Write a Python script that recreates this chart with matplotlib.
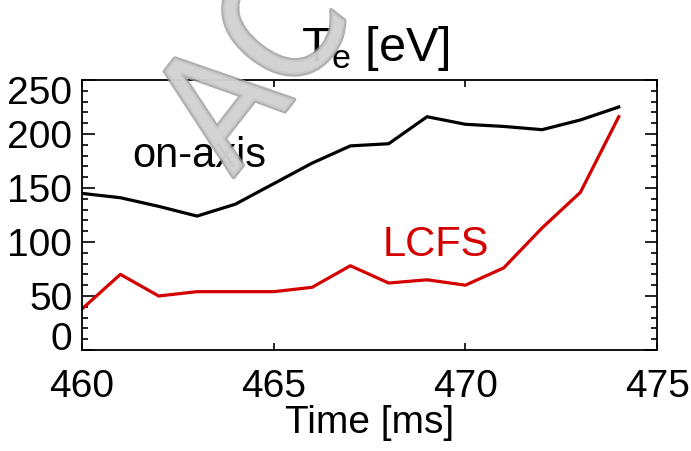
import numpy as np
import matplotlib
matplotlib.use("Agg")
import matplotlib.pyplot as plt
import matplotlib.patheffects as pe
import matplotlib.transforms as mtransforms
from matplotlib.ticker import MultipleLocator, FixedLocator

plt.rcParams['font.family'] = ['Liberation Sans', 'DejaVu Sans']
plt.rcParams['mathtext.fontset'] = 'custom'
plt.rcParams['mathtext.rm'] = 'Liberation Sans'
plt.rcParams['mathtext.it'] = 'Liberation Sans'

# electron temperature traces
time_ms = [460, 461, 462, 463, 464, 465, 466, 467, 468, 469, 470, 471, 472, 473, 474]
te_axis = [145, 141, 133, 124, 135, 154, 173, 189, 191, 216, 209, 207, 204, 213, 225]
te_lcfs = [38, 70, 50, 54, 54, 54, 58, 78, 62, 65, 60, 76, 113, 146, 216]
y_ticks = [0, 50, 100, 150, 200, 250]
x_ticks = [460, 465, 470, 475]

fig = plt.figure(figsize=(6.91, 4.51), dpi=100)
ax = fig.add_axes([0.1187, 0.2240, 0.8322, 0.5986])

ax.plot(time_ms, te_axis, color='black', lw=2.3)
ax.plot(time_ms, te_lcfs, color='#d40000', lw=2.3)

ax.set_xlim(460, 475)
ax.set_ylim(0, 250)
ax.xaxis.set_major_locator(FixedLocator(x_ticks))
ax.yaxis.set_major_locator(FixedLocator(y_ticks))
ax.yaxis.set_minor_locator(MultipleLocator(10))
ax.tick_params(axis='both', which='both', direction='in', top=True, right=True,
               labelsize=28, width=1.2)
ax.tick_params(axis='y', which='major', length=9, pad=7)
ax.tick_params(axis='y', which='minor', length=4.5)
ax.tick_params(axis='x', which='major', length=5, pad=14)
for s in ax.spines.values():
    s.set_linewidth(1.3)

# keep the end labels inside the axis range
fig.canvas.draw()
for lab in ax.get_yticklabels():
    if lab.get_text() == '0':
        lab.set_va('baseline')
    elif lab.get_text() == '250':
        shift = mtransforms.ScaledTranslation(0, -7 / 72, fig.dpi_scale_trans)
        lab.set_transform(lab.get_transform() + shift)

ax.set_xlabel('Time [ms]', fontsize=28, labelpad=0)
ax.set_title(r'T$_\mathrm{e}$ [eV]', fontsize=35, pad=14, x=0.51)

ax.text(461.3, 180, 'on-axis', fontsize=30, color='black', va='center')
ax.text(467.85, 97, 'LCFS', fontsize=30, color='#d40000', va='center')

# journal watermark
fig.text(0.337, 0.605, 'ACCEPTED MANUSCRIPT', fontsize=118, rotation=52,
         rotation_mode='anchor', family='DejaVu Sans', fontstretch='condensed',
         color='#d2d2d2', alpha=0.8, ha='left', va='baseline', zorder=10,
         path_effects=[pe.withStroke(linewidth=3, foreground='#9c9c9c')])

fig.savefig('out.png', dpi=100)
